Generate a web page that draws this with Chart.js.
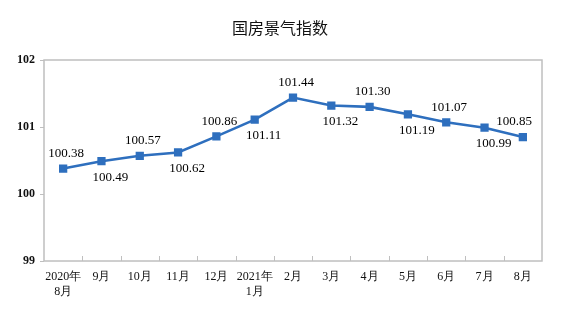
<!DOCTYPE html>
<html>
<head>
<meta charset="utf-8">
<script src="https://cdn.jsdelivr.net/npm/chart.js@4"></script>
<style>
  html, body { margin: 0; padding: 0; background: #fff; }
  #wrap { width: 568px; height: 325px; }
</style>
</head>
<body>
<div id="wrap"><canvas id="myChart"></canvas></div>
<script>
//Data
const chartTitle = '国房景气指数'
const months = [
  ['2020年', '8月'], '9月', '10月', '11月', '12月', ['2021年', '1月'],
  '2月', '3月', '4月', '5月', '6月', '7月', '8月'
]
const indexValues = [100.38, 100.49, 100.57, 100.62, 100.86, 101.11,
  101.44, 101.32, 101.30, 101.19, 101.07, 100.99, 100.85]
const yTicks = [99, 100, 101, 102]

const lineColor = '#2e6fbe'
const axisColor = '#bfbfbf'
const serif = '"Liberation Serif", "Times New Roman", serif'

//Title, frame around the plot and small inward ticks between months
const framePlugin = {
  id: 'frame',
  afterDraw(chart) {
    const { ctx, chartArea: a, scales: { x } } = chart
    ctx.save()
    ctx.fillStyle = '#111'
    ctx.font = '16px "Noto Sans CJK SC", sans-serif'
    ctx.textAlign = 'center'
    ctx.textBaseline = 'middle'
    ctx.fillText(chartTitle, 280, 28)

    ctx.strokeStyle = axisColor
    ctx.lineWidth = 1.5
    ctx.strokeRect(a.left, a.top, a.right - a.left, a.bottom - a.top)
    ctx.lineWidth = 1
    for (let i = 1; i < months.length; i++) {
      const px = Math.round((x.getPixelForValue(i - 1) + x.getPixelForValue(i)) / 2) + 0.5
      ctx.beginPath()
      ctx.moveTo(px, a.bottom)
      ctx.lineTo(px, a.bottom - 5)
      ctx.stroke()
    }
    ctx.restore()
  }
}

//Value labels, alternating above and below the line
const labelPlugin = {
  id: 'valueLabels',
  afterDatasetsDraw(chart) {
    const { ctx, chartArea: a } = chart
    const meta = chart.getDatasetMeta(0)
    ctx.save()
    ctx.font = '13px ' + serif
    ctx.fillStyle = '#000'
    ctx.textAlign = 'center'
    ctx.textBaseline = 'middle'
    meta.data.forEach((pt, i) => {
      const text = indexValues[i].toFixed(2)
      const above = i % 2 === 0
      const half = ctx.measureText(text).width / 2
      let cx = pt.x + (above ? 3 : 9)
      cx = Math.min(cx, a.right - half - 10)
      const cy = pt.y + (above ? -15 : 16)
      ctx.fillText(text, cx, cy)
    })
    ctx.restore()
  }
}

const ctx = document.getElementById('myChart')
const myChart = new Chart(ctx, {
  type: 'line',
  data: {
    labels: months,
    datasets: [{
      label: chartTitle,
      data: indexValues,
      borderColor: lineColor,
      backgroundColor: lineColor,
      borderWidth: 2.6,
      pointStyle: 'rect',
      pointRadius: 4,
      pointHoverRadius: 4,
      tension: 0
    }]
  },
  options: {
    responsive: true,
    maintainAspectRatio: false,
    animation: false,
    events: [],
    layout: { padding: { left: 0, right: 26, top: 60, bottom: 0 } },
    plugins: {
      legend: { display: false },
      tooltip: { enabled: false },
      title: { display: false }
    },
    scales: {
      x: {
        offset: true,
        grid: { display: false },
        border: { display: false },
        ticks: {
          color: '#111',
          padding: 1,
          maxRotation: 0,
          autoSkip: false,
          font: { family: serif, size: 12 }
        },
        afterFit(scale) { scale.height = 64 }
      },
      y: {
        min: yTicks[0],
        max: yTicks[yTicks.length - 1],
        afterBuildTicks(scale) { scale.ticks = yTicks.map(v => ({ value: v })) },
        grid: { drawOnChartArea: false, tickLength: 4, color: axisColor },
        border: { display: false },
        ticks: {
          color: '#111',
          padding: 5,
          font: { family: serif, size: 12, weight: 'bold' }
        },
        afterFit(scale) { scale.width = 44 }
      }
    }
  },
  plugins: [framePlugin, labelPlugin]
})
</script>
</body>
</html>
